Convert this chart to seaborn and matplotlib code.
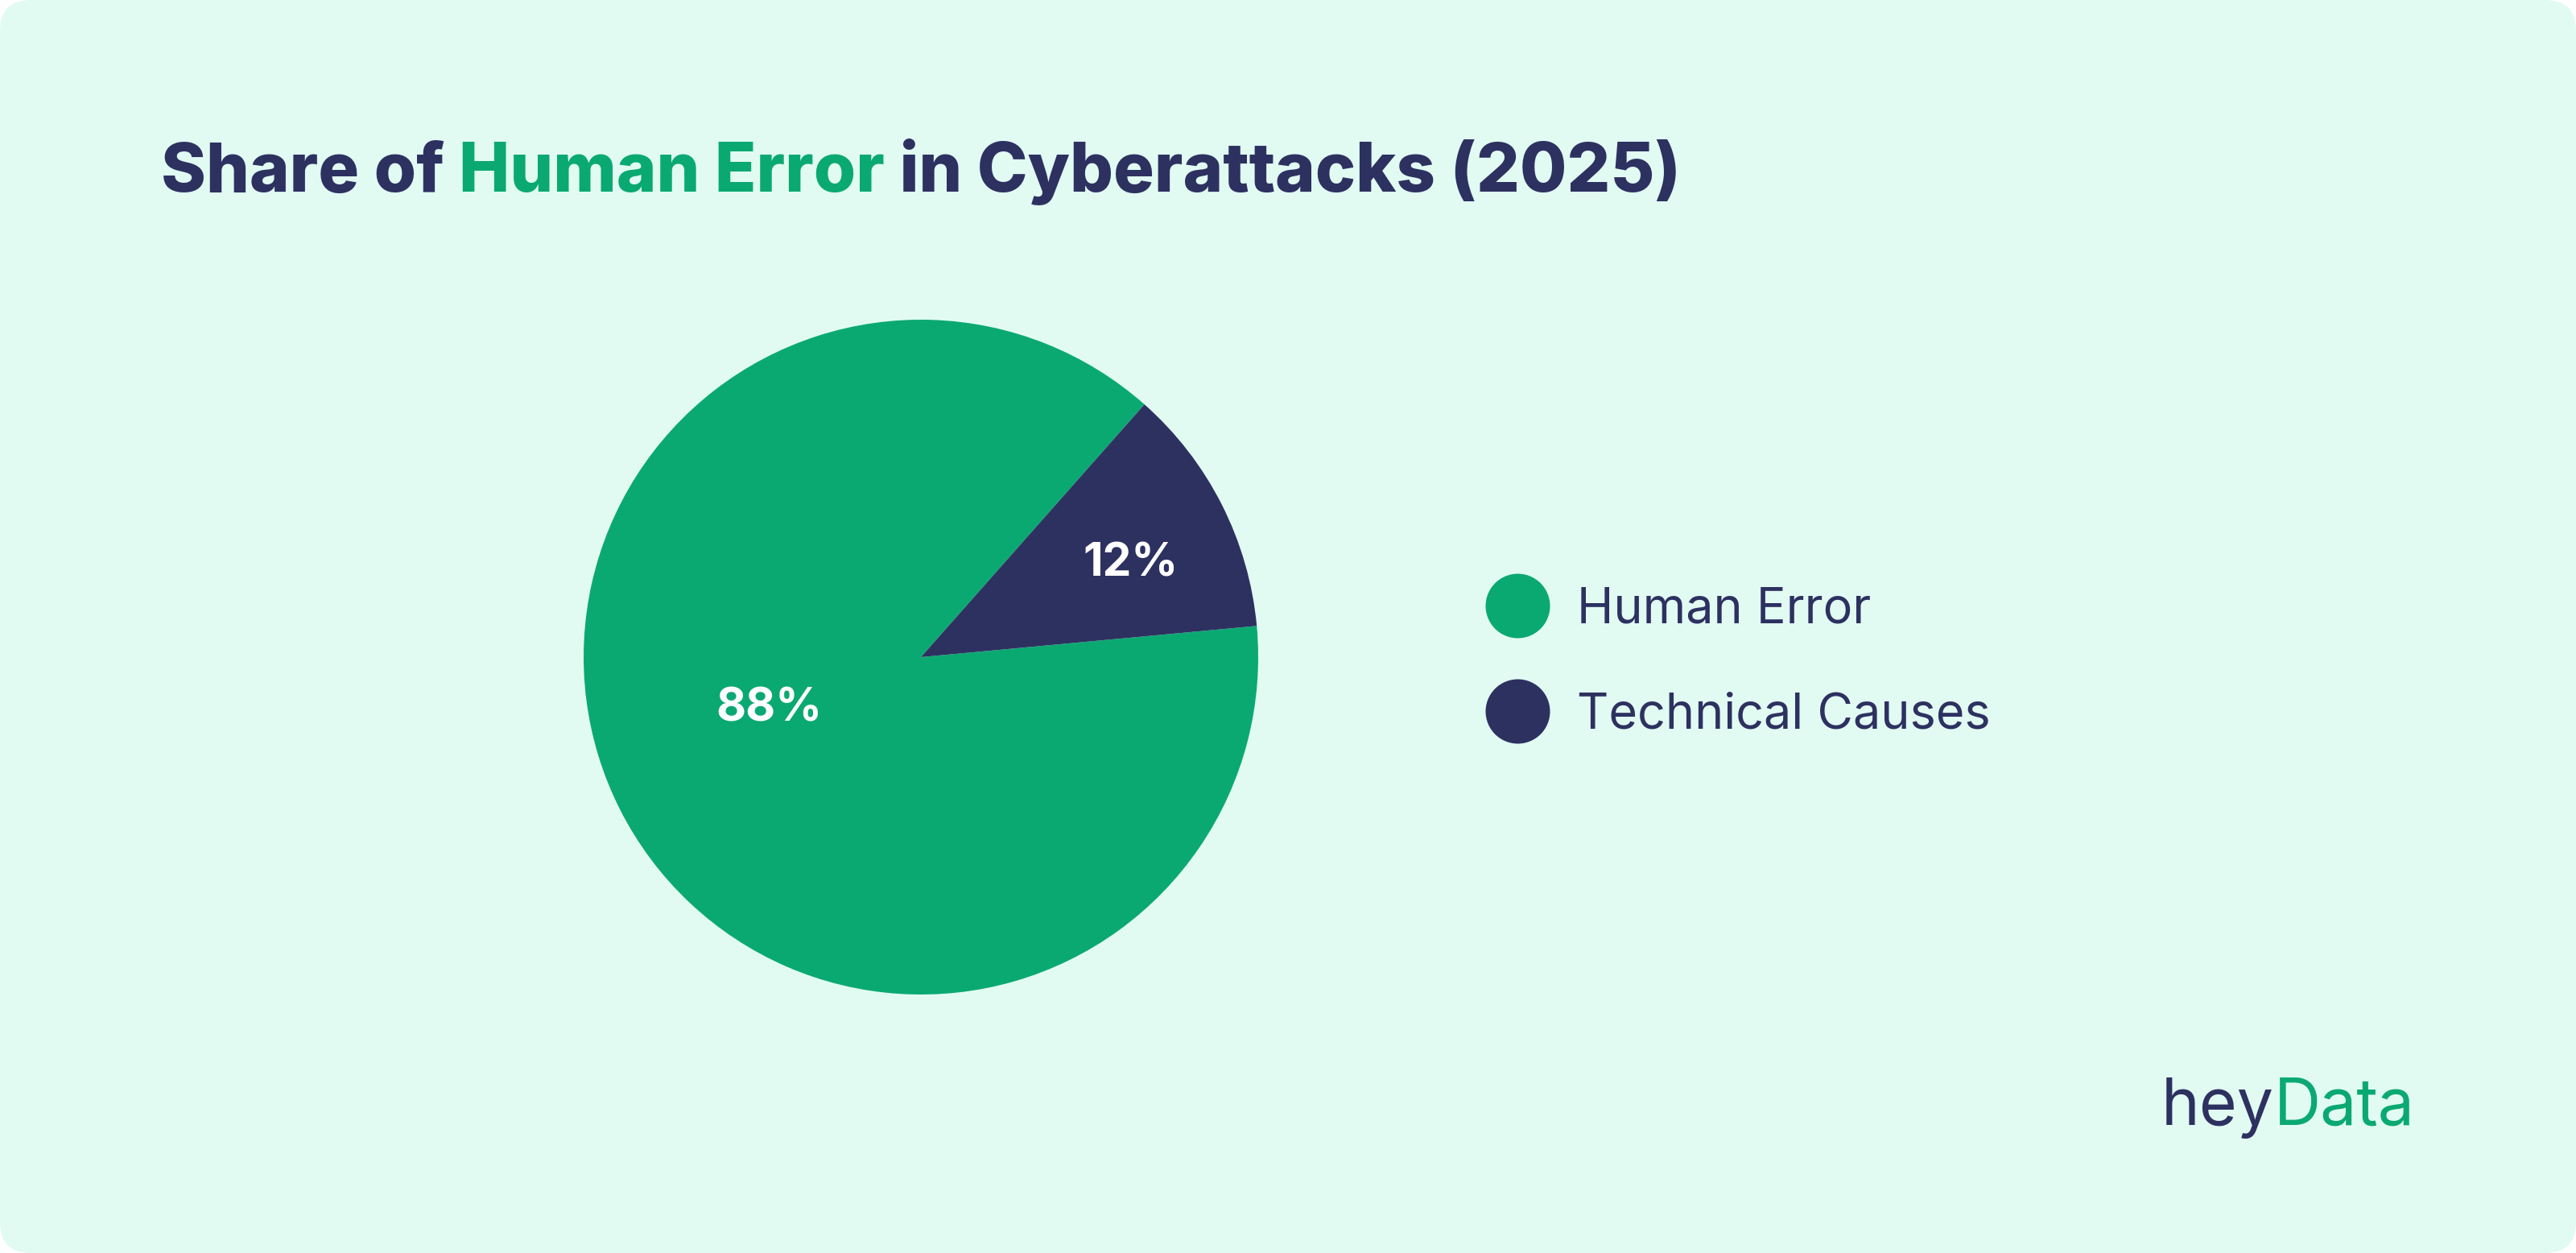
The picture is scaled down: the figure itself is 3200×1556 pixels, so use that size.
import matplotlib
matplotlib.use('Agg')
import numpy as np
import matplotlib.pyplot as plt
import seaborn as sns
from matplotlib.patches import FancyBboxPatch
from matplotlib.lines import Line2D

# Data
categories = ['Human Error', 'Technical Causes']
shares = [88, 12]
pct_labels = ['88%', '12%']
title_parts = [('Share of ', 'navy'), ('Human Error', 'green'), (' in Cyberattacks (2025)', 'navy')]

# Colours
BG = '#E1FBF3'
GREEN = '#0BA972'
NAVY = '#2D3160'
colors = {'green': GREEN, 'navy': NAVY}
palette = sns.color_palette([GREEN, NAVY])

sns.set_theme(style='white')
plt.rcParams['font.family'] = ['Inter', 'DejaVu Sans']

W, H, DPI = 3200, 1556, 200
fig = plt.figure(figsize=(W / DPI, H / DPI), dpi=DPI, facecolor='white')

# rounded card background (behind everything)
card = FancyBboxPatch((0, 0), 1, 1, boxstyle='round,pad=0,rounding_size=0.012',
                      transform=fig.transFigure, facecolor=BG, edgecolor='none',
                      mutation_aspect=W / H, zorder=-10)
fig.patches.append(card)

# pie axes: centre (1144, 816) px, radius 419 px
cx, cy, r = 1144, 816, 419
ax = fig.add_axes([(cx - r) / W, 1 - (cy + r) / H, 2 * r / W, 2 * r / H])
ax.set_facecolor('none')
ax.set_zorder(1)
wedges, texts, autotexts = ax.pie(shares, colors=palette, startangle=48.5,
                                  counterclock=True, autopct='%d%%', pctdistance=0.6,
                                  wedgeprops=dict(linewidth=0),
                                  textprops=dict(color='white', fontsize=20.5, fontweight='bold'))
# label placement as in the reference (radius, angle in degrees)
label_pos = [(0.475, 199), (0.68, 24)]
for t, lab, (rad, ang) in zip(autotexts, pct_labels, label_pos):
    t.set_position((rad * np.cos(np.radians(ang)), rad * np.sin(np.radians(ang))))
    t.set_text(lab)
ax.set_xlim(-1, 1)
ax.set_ylim(-1, 1)
ax.set_aspect('equal')
ax.axis('off')

# legend
handles = [Line2D([0], [0], marker='o', linestyle='none', markersize=28.8,
                  markerfacecolor=c, markeredgewidth=0) for c in palette]
leg = fig.legend(handles, categories, loc='center left',
                 bbox_to_anchor=(1812 / W, 1 - 823 / H), frameon=False,
                 fontsize=22, labelcolor=NAVY, handlelength=1.4,
                 handletextpad=0.5, labelspacing=1.2, borderpad=0)

# title in pieces
fig.canvas.draw()
renderer = fig.canvas.get_renderer()
x = 200 / W
for txt, col in title_parts:
    t = fig.text(x, 1 - 238 / H, txt, color=colors[col], fontsize=30.5,
                 fontweight='heavy', ha='left', va='baseline')
    bb = t.get_window_extent(renderer)
    x += bb.width / W

# logo
lx = 2685 / W
for txt, col in [('hey', NAVY), ('Data', GREEN)]:
    t = fig.text(lx, 1 - 1397 / H, txt, color=col, fontsize=29, ha='left', va='baseline')
    bb = t.get_window_extent(renderer)
    lx += bb.width / W

fig.savefig('out.png', dpi=DPI, facecolor='white')
